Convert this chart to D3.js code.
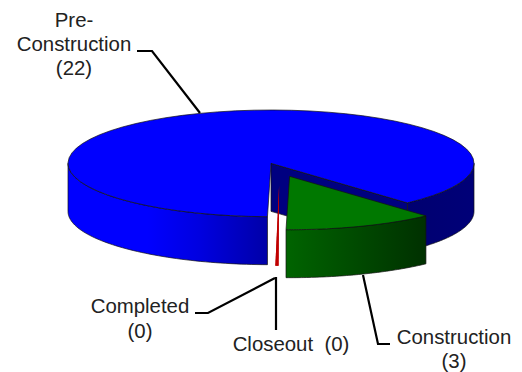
<!DOCTYPE html>
<html><head><meta charset="utf-8">
<script src="https://cdn.jsdelivr.net/npm/d3@7"></script>
<style>html,body{margin:0;padding:0;background:#fff}svg{display:block}</style>
</head><body><svg id="c" width="522" height="372"></svg>
<script>
const categories = ["Pre-Construction", "Construction", "Closeout", "Completed"];
const values = [22, 3, 0, 0];
const labelLines = [["Pre-", "Construction", "(22)"], ["Construction", "(3)"], ["Closeout  (0)"], ["Completed", "(0)"]];
const topColors = ["#0000ff", "#007800", "#c00000", "#c00000"];

// layout
const W = 522, H = 372, depth = 48, startDeg = 181;
const explode = [0, 0.26, 0, 0];
const sliverShift = [9.5, 1];
const labelPos = [[74, 27, 24], [454, 344, 24], [291, 351, 24], [140, 313, 25]];
const leaders = [
  [[137, 51], [152, 51], [200, 113]],
  [[363, 275], [378, 344], [390, 344]],
  [[276, 277], [276, 330]],
  [[195, 313], [208, 313], [275, 278]]
];
const rad = d => d * Math.PI / 180;
const sx = d3.scaleLinear([-1, 1], [68, 474]);
const sy = d3.scaleLinear([-1, 1], [110, 216.7]);
const svg = d3.select("#c");
const defs = svg.append("defs");
function grad(id, x1, x2, stops) {
  const g = defs.append("linearGradient").attr("id", id).attr("gradientUnits", "userSpaceOnUse")
    .attr("x1", x1).attr("x2", x2).attr("y1", 0).attr("y2", 0);
  stops.forEach(s => g.append("stop").attr("offset", s[0]).attr("stop-color", s[1]));
}
grad("blueL", sx(-1), 267, [[0, "#0000ff"], [0.4, "#0000ff"], [0.66, "#0000e0"], [1, "#0000a8"]]);
grad("blueR", 408, 474, [[0, "#000070"], [1, "#000078"]]);
grad("green", 286, 427, [[0, "#006400"], [0.5, "#004a00"], [1, "#003000"]]);

const arcs = d3.pie().sort(null).startAngle(rad(startDeg)).endAngle(rad(startDeg + 360))(values);
const pt = (a, r, z, o) => [sx(r * Math.sin(a)) + o[0], sy(-r * Math.cos(a)) + z + o[1]];
const line = d3.line();
const offset = (d, i) => {
  const m = (d.startAngle + d.endAngle) / 2;
  return [sx(explode[i] * Math.sin(m)) - sx(0), sy(-explode[i] * Math.cos(m)) - sy(0)];
};
const arcPts = (a0, a1, z, o) => d3.range(0, 61).map(k => pt(a0 + (a1 - a0) * k / 60, 1, z, o));

const g = svg.append("g").attr("stroke", "#111").attr("stroke-width", 0.7).attr("stroke-linejoin", "round");
function drawWall(d, i, fills) {
  const o = offset(d, i);
  for (let k = 0; k < 2; k++) {
    const a0 = Math.max(d.startAngle, rad(90 + 360 * k)), a1 = Math.min(d.endAngle, rad(270 + 360 * k));
    if (a1 <= a0) continue;
    const pts = arcPts(a0, a1, 0, o).concat(arcPts(a0, a1, depth, o).reverse());
    g.append("path").attr("d", line(pts) + "Z").attr("fill", fills[k > 0 ? 1 : 0]);
  }
}
function drawTop(d, i, fill) {
  const o = offset(d, i);
  const pts = [pt(0, 0, 0, o)].concat(arcPts(d.startAngle, d.endAngle, 0, o));
  g.append("path").attr("d", line(pts) + "Z").attr("fill", fill);
}
// Pre-Construction
const blue = arcs[0];
drawWall(blue, 0, ["url(#blueL)", "url(#blueR)"]);
const o0 = offset(blue, 0);
g.append("path").attr("fill", "#000080").attr("d", line([
  pt(0, 0, 0, o0), pt(blue.endAngle, 1, 0, o0), pt(blue.endAngle, 1, depth, o0), pt(0, 0, depth, o0)
]) + "Z");
drawTop(blue, 0, topColors[0]);
// zero-valued slices: a hairline wall
[arcs[2], arcs[3]].forEach(d => {
  const a = d.startAngle;
  g.append("path").attr("stroke", "none").attr("fill", topColors[2]).attr("d", line([
    pt(a, 0.4, 0, sliverShift), pt(a - rad(0.45), 1, depth, sliverShift), pt(a + rad(0.45), 1, depth, sliverShift)
  ]) + "Z");
});
// Construction
drawWall(arcs[1], 1, ["url(#green)", "url(#green)"]);
drawTop(arcs[1], 1, topColors[1]);

// leaders
svg.append("g").attr("fill", "none").attr("stroke", "#000").attr("stroke-width", 2.2)
  .selectAll("path").data(leaders).join("path").attr("d", d => line(d));

// labels
labelLines.forEach((ls, i) => {
  const [x, y, lh] = labelPos[i];
  svg.append("text").attr("font-family", "Liberation Sans, Arial, sans-serif").attr("font-size", 20.4)
    .attr("fill", "#222").attr("text-anchor", "middle")
    .style("white-space", "pre")
    .selectAll("tspan").data(ls).join("tspan")
    .attr("x", x).attr("y", (d, k) => y + k * lh).text(d => d);
});
</script></body></html>
